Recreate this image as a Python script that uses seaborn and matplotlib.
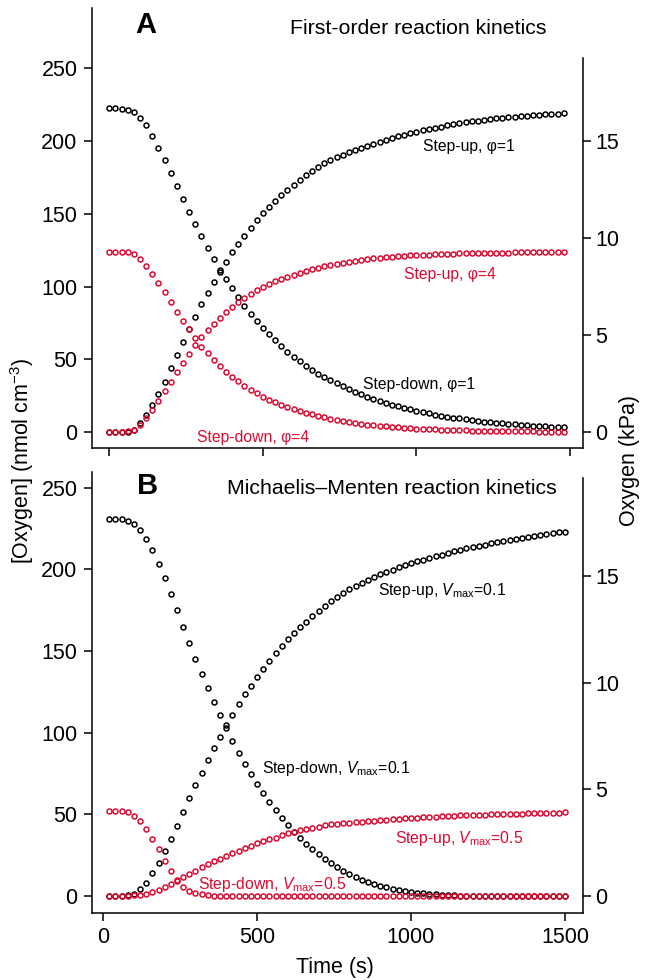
import numpy as np
import pandas as pd
import matplotlib
matplotlib.use("Agg")
import matplotlib.pyplot as plt
import seaborn as sns

# ---------------- data ----------------
time_A = np.arange(0, 1481, 20)      # s
time_B = np.arange(20, 1501, 20)     # s

# Panel A: first-order kinetics  (nmol cm-3)
A_down_phi1 = [223, 223, 222.1, 221.4, 219.8, 216.2, 210.9, 203.6, 195.5, 187.1,
               178.1, 169.0, 160.0, 151.3, 143.1, 134.6, 126.5, 118.8, 111.4, 105.0,
               98.8, 92.8, 86.7, 81.2, 76.1, 71.5, 67.2, 63.0, 58.9, 55.2,
               51.8, 48.6, 45.4, 42.6, 40.1, 37.8, 35.6, 33.5,
               31.5, 29.5, 27.7, 25.9, 24.3, 22.8, 21.4, 20.0, 18.8, 17.6,
               16.5, 15.5, 14.5, 13.6, 12.8, 12.0, 11.2, 10.5, 9.9, 9.3,
               8.7, 8.1, 7.6, 7.2, 6.7, 6.3, 5.9, 5.5, 5.2, 4.9,
               4.6, 4.3, 4.0, 3.8, 3.5, 3.3, 3.1]
A_up_phi1 = [0, 0, 0, 0.2, 1.4, 6.0, 11.7, 18.6, 26.1, 34.6,
             43.8, 53.0, 61.7, 70.6, 79.3, 88.0, 95.8, 102.9, 110.3, 116.9,
             123.6, 129.5, 135.0, 140.5, 145.8, 150.4, 155.0, 159.1, 163.0, 166.7,
             170.1, 173.3, 176.5, 179.5, 182.0, 184.8, 186.9, 188.9,
             190.7, 192.4, 194.0, 195.5, 196.9, 198.3, 199.6, 200.9, 202.1, 203.3,
             204.4, 205.5, 206.5, 207.5, 208.4, 209.3, 210.1, 210.9, 211.6, 212.3,
             213.0, 213.6, 214.2, 214.7, 215.2, 215.7, 216.1, 216.5, 216.9, 217.3,
             217.6, 217.9, 218.2, 218.5, 218.7, 218.9, 219.1]
A_down_phi4 = [124.0, 124.0, 124.0, 123.6, 122.2, 119.0, 114.2, 108.7, 102.7, 96.1,
               89.4, 82.8, 76.6, 70.6, 64.4, 58.7, 54.1, 49.5, 45.4, 41.5,
               38.1, 34.9, 31.9, 29.1, 26.6, 24.3, 22.3, 20.4, 18.7, 17.2,
               15.8, 14.5, 13.3, 12.2, 11.1, 10.1, 9.0, 8.2,
               7.5, 6.8, 6.2, 5.6, 5.1, 4.6, 4.2, 3.8, 3.5, 3.2,
               2.9, 2.6, 2.4, 2.2, 2.0, 1.8, 1.6, 1.5, 1.4, 1.2,
               1.1, 1.0, 0.9, 0.8, 0.8, 0.7, 0.6, 0.6, 0.5, 0.5,
               0.4, 0.4, 0.3, 0.3, 0.3, 0.2, 0.2]
A_up_phi4 = [0, 0, 0, 0.4, 1.6, 5.0, 9.8, 15.3, 21.3, 27.9,
             34.6, 41.2, 47.4, 53.4, 59.6, 65.3, 69.9, 74.5, 78.6, 82.5,
             85.9, 89.1, 92.1, 94.9, 97.4, 99.7, 101.7, 103.6, 105.3, 106.8,
             108.2, 109.5, 110.7, 111.8, 112.9, 113.9, 114.8, 115.7,
             116.5, 117.2, 117.8, 118.4, 118.9, 119.4, 119.8, 120.2, 120.5, 120.8,
             121.1, 121.4, 121.6, 121.8, 122.0, 122.2, 122.4, 122.5, 122.6, 122.8,
             122.9, 123.0, 123.1, 123.2, 123.2, 123.3, 123.4, 123.4, 123.5, 123.5,
             123.6, 123.6, 123.7, 123.7, 123.7, 123.8, 123.8]

# Panel B: Michaelis-Menten kinetics (nmol cm-3)
B_down_v01 = [230.5, 230.5, 230.5, 229.5, 227.7, 224.0, 218.5, 211.6, 203.0, 194.4,
              184.6, 175.0, 164.8, 155.0, 145.2, 136.0, 127.1, 118.5, 110.6, 102.7,
              94.9, 87.7, 80.8, 74.5, 68.7, 63.2, 57.7, 52.4, 47.9, 43.3,
              39.4, 35.5, 32.0, 28.8, 25.5, 22.6, 20.0, 17.7, 15.3, 13.3,
              11.6, 9.8, 8.4, 7.3, 6.3, 5.4, 4.6, 3.8, 3.2, 2.6,
              2.1, 1.7, 1.3, 1.0, 0.8, 0.6, 0.4, 0.3, 0.2, 0.1,
              0.1, 0, 0, 0, 0, 0, 0, 0, 0, 0,
              0, 0, 0, 0, 0]
B_up_v01 = [0, 0, 0.1, 0.4, 1.2, 4.1, 8.2, 13.9, 20.4, 27.5,
            34.9, 43.0, 51.2, 59.8, 67.7, 75.5, 83.0, 90.4, 97.5, 104.4,
            110.8, 117.5, 123.4, 128.7, 134.0, 138.9, 143.8, 148.5, 153.0, 157.2,
            161.0, 164.6, 167.9, 171.1, 174.3, 177.4, 180.3, 183.0,
            185.6, 187.8, 189.9, 191.8, 193.6, 195.3, 196.9, 198.4, 199.8, 201.1,
            202.4, 203.6, 204.8, 205.9, 207.0, 208.0, 209.0, 210.0, 210.9, 211.8,
            212.7, 213.5, 214.3, 215.1, 215.8, 216.5, 217.2, 217.9, 218.5, 219.1,
            219.7, 220.3, 220.9, 221.5, 222.1, 222.6, 223.1]
B_down_v05 = [51.8, 51.8, 51.8, 51.2, 49.0, 45.9, 40.8, 34.9, 28.8, 21.6,
              15.5, 9.8, 5.7, 3.1, 1.6, 1.0, 0.6, 0.3, 0.2, 0.1,
              0.1, 0, 0, 0, 0, 0, 0, 0, 0, 0,
              0, 0, 0, 0, 0, 0, 0, 0, 0, 0,
              0, 0, 0, 0, 0, 0, 0, 0, 0, 0,
              0, 0, 0, 0, 0, 0, 0, 0, 0, 0,
              0, 0, 0, 0, 0, 0, 0, 0, 0, 0,
              0, 0, 0, 0, 0]
B_up_v05 = [0, 0, 0.2, 0.2, 0.4, 0.8, 1.4, 2.4, 3.7, 5.3,
            7.1, 9.4, 11.4, 13.5, 15.5, 17.6, 19.4, 21.3, 22.9, 24.5,
            26.2, 27.6, 29.3, 30.7, 32.2, 33.4, 34.6, 35.8, 37.1, 38.3,
            39.3, 40.2, 41.0, 41.8, 42.5, 43.2, 43.8, 44.2,
            44.6, 45.0, 45.3, 45.6, 45.9, 46.2, 46.5, 46.8, 47.0, 47.2,
            47.5, 47.7, 47.9, 48.2, 48.4, 48.6, 48.8, 49.0, 49.2, 49.4,
            49.5, 49.6, 49.8, 49.9, 50.0, 50.1, 50.2, 50.3, 50.4, 50.5,
            50.6, 50.7, 50.8, 50.9, 51.0, 51.1, 51.2]

for s in (A_down_phi1, A_up_phi1, A_down_phi4, A_up_phi4,
          B_down_v01, B_up_v01, B_down_v05, B_up_v05):
    assert len(s) == 75, len(s)

left_ticks = [0, 50, 100, 150, 200, 250]
right_ticks = [0, 5, 10, 15]
x_ticks = [0, 500, 1000, 1500]
kpa_factor_A = 13.34   # nmol cm-3 per kPa (panel A axis)
kpa_factor_B = 13.06   # nmol cm-3 per kPa (panel B axis)

BLACK = "#000000"
RED = "#dc0a30"

# ---------------- style ----------------
sns.set_theme(style="ticks")
plt.rcParams["font.family"] = ["Liberation Sans", "DejaVu Sans"]
plt.rcParams["mathtext.fontset"] = "custom"
plt.rcParams["mathtext.rm"] = "Liberation Sans"
plt.rcParams["mathtext.it"] = "Liberation Sans:italic"
plt.rcParams["axes.linewidth"] = 1.1
plt.rcParams["axes.edgecolor"] = "black"
plt.rcParams["text.color"] = "black"
plt.rcParams["axes.labelcolor"] = "black"
plt.rcParams["xtick.color"] = "black"
plt.rcParams["ytick.color"] = "black"
plt.rcParams["xtick.labelcolor"] = "black"
plt.rcParams["ytick.labelcolor"] = "black"

W, H = 665, 980
fig = plt.figure(figsize=(W / 100, H / 100), dpi=100)


def px_axes(x0, y0, x1, y1):
    return fig.add_axes([x0 / W, 1 - y1 / H, (x1 - x0) / W, (y1 - y0) / H])


def draw(ax, t, y, color):
    sns.lineplot(x=t, y=y, ax=ax, color=color, linestyle="", marker="o",
                 markersize=3.6, markerfacecolor="none", markeredgecolor=color,
                 markeredgewidth=1.1, estimator=None, sort=False)


def style_panel(ax, ylim, xlim, factor, right_top, show_xlabels):
    ax.set_xlim(*xlim)
    ax.set_ylim(*ylim)
    ax.set_yticks(left_ticks)
    ax.set_xticks(x_ticks)
    ax.spines["top"].set_visible(False)
    ax.spines["right"].set_visible(False)
    ax.tick_params(axis="both", direction="out", length=6, width=1.1,
                   labelsize=15.5, pad=4, colors="black")
    if not show_xlabels:
        ax.tick_params(axis="x", labelbottom=False)
    ax.set_xlabel("")
    ax.set_ylabel("")
    ax2 = ax.twinx()
    ax2.set_ylim(ylim[0] / factor, ylim[1] / factor)
    ax2.set_yticks(right_ticks)
    for sp in ("top", "left", "bottom"):
        ax2.spines[sp].set_visible(False)
    ax2.spines["right"].set_bounds(ylim[0] / factor, right_top)
    ax2.tick_params(axis="y", direction="out", length=6, width=1.1,
                    labelsize=15.5, pad=3, colors="black")
    return ax2


# Panel A
axA = px_axes(91.5, 8, 582.8, 448)
draw(axA, time_A, A_down_phi1, BLACK)
draw(axA, time_A, A_up_phi1, BLACK)
draw(axA, time_A, A_down_phi4, RED)
draw(axA, time_A, A_up_phi4, RED)
style_panel(axA, (-11.0, 291.6), (-58, 1542), kpa_factor_A, 19.3, False)

# Panel B
axB = px_axes(91.5, 471.7, 582.8, 912.7)
draw(axB, time_B, B_down_v01, BLACK)
draw(axB, time_B, B_up_v01, BLACK)
draw(axB, time_B, B_down_v05, RED)
draw(axB, time_B, B_up_v05, RED)
style_panel(axB, (-10.2, 259.7), (-37.7, 1558), kpa_factor_B, 19.6, True)


def ftext(x, y, s, **kw):
    fig.text(x / W, 1 - y / H, s, **kw)


ftext(135, 25, "A", fontsize=21, fontweight="bold", va="center", ha="left")
ftext(290, 28, "First-order reaction kinetics", fontsize=15.3, va="center")
ftext(423, 147, "Step-up, φ=1", fontsize=11.3, va="center", color=BLACK)
ftext(404, 275, "Step-up, φ=4", fontsize=11.3, va="center", color=RED)
ftext(363, 384, "Step-down, φ=1", fontsize=11.3, va="center", color=BLACK)
ftext(197, 437, "Step-down, φ=4", fontsize=11.3, va="center", color=RED)

ftext(137, 486, "B", fontsize=21, fontweight="bold", va="center", ha="left")
ftext(227, 488, "Michaelis–Menten reaction kinetics", fontsize=15.3, va="center")
ftext(378, 590, "Step-up, $V_{\\mathrm{max}}$=0.1", fontsize=11.3, va="center", color=BLACK)
ftext(262, 768, "Step-down, $V_{\\mathrm{max}}$=0.1", fontsize=11.3, va="center", color=BLACK)
ftext(395, 838, "Step-up, $V_{\\mathrm{max}}$=0.5", fontsize=11.3, va="center", color=RED)
ftext(198, 884, "Step-down, $V_{\\mathrm{max}}$=0.5", fontsize=11.3, va="center", color=RED)

ftext(22, 461, "[Oxygen] (nmol cm$^{-3}$)", fontsize=15.5, rotation=90,
      ha="center", va="center")
ftext(630, 461, "Oxygen (kPa)", fontsize=15.5, rotation=90, ha="center", va="center")
ftext(335, 967, "Time (s)", fontsize=15.5, ha="center", va="center")

fig.savefig("out.png", dpi=100)
